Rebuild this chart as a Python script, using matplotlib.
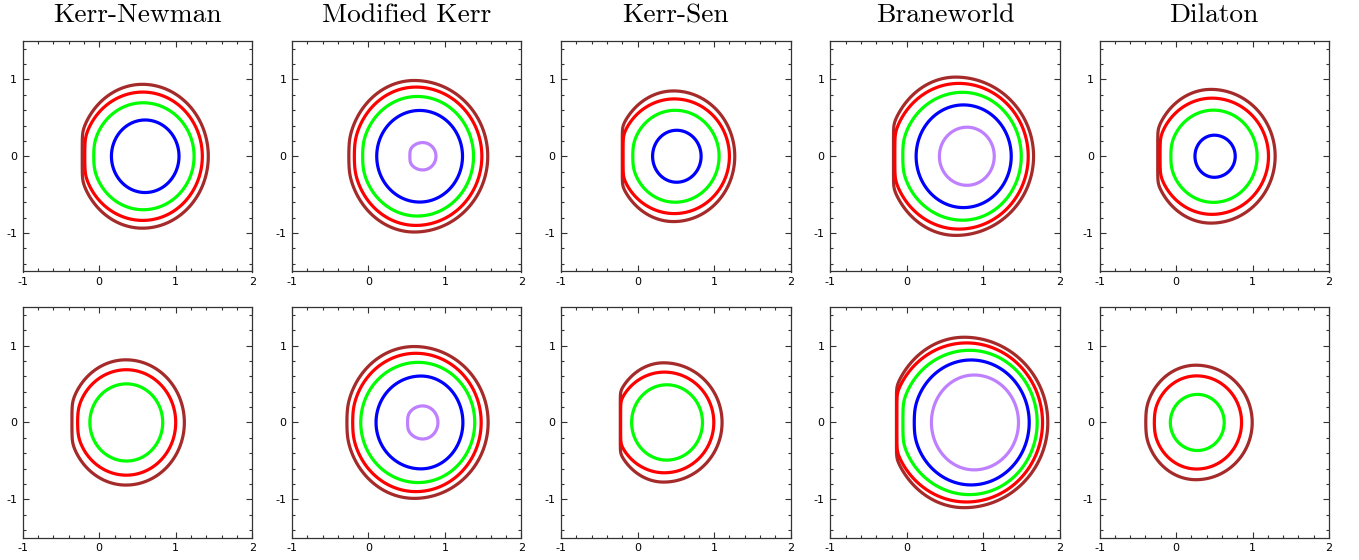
import numpy as np
import matplotlib
matplotlib.use("Agg")
import matplotlib.pyplot as plt
from matplotlib.ticker import MultipleLocator

plt.rcParams['axes.unicode_minus'] = False

titles = ["Kerr-Newman", "Modified Kerr", "Kerr-Sen", "Braneworld", "Dilaton"]
curve_colors = ['#a52a2a', '#ff0000', '#00ff00', '#0000ff', '#bf80ff']

# shadow curves, one list per panel, outer curve first
# left edge, right edge, half height, x of top point,
# and how much of the left side is a straight vertical piece (fraction of half height)
left_top = [[-0.222, -0.19, -0.078, 0.16],
            [-0.26, -0.19, -0.083, 0.109, 0.539],
            [-0.20, -0.19, -0.07, 0.196],
            [-0.174, -0.157, -0.057, 0.122, 0.426],
            [-0.239, -0.209, -0.074, 0.248]]
right_top = [[1.426, 1.348, 1.24, 1.043],
             [1.56, 1.483, 1.374, 1.23, 0.883],
             [1.27, 1.20, 1.065, 0.83],
             [1.657, 1.587, 1.496, 1.365, 1.143],
             [1.296, 1.209, 1.06, 0.774]]
half_top = [[0.936, 0.835, 0.696, 0.472],
            [0.986, 0.90, 0.778, 0.596, 0.178],
            [0.85, 0.746, 0.598, 0.338],
            [1.03, 0.948, 0.832, 0.668, 0.378],
            [0.87, 0.756, 0.60, 0.274]]
peak_top = [[0.565, 0.57, 0.574, 0.60],
            [0.60, 0.62, 0.64, 0.67, 0.71],
            [0.47, 0.48, 0.49, 0.51],
            [0.64, 0.68, 0.73, 0.74, 0.787],
            [0.457, 0.47, 0.49, 0.50]]
flat_top = [[0.33, 0.25, 0.1, 0.0],
            [0.15, 0.1, 0.05, 0.0, 0.4],
            [0.45, 0.35, 0.1, 0.0],
            [0.4, 0.3, 0.15, 0.0, 0.0],
            [0.4, 0.3, 0.1, 0.0]]

left_bot = [[-0.357, -0.287, -0.122],
            [-0.287, -0.213, -0.10, 0.10, 0.509],
            [-0.226, -0.222, -0.078],
            [-0.135, -0.13, -0.052, 0.091, 0.322],
            [-0.40, -0.291, -0.074]]
right_bot = [[1.113, 1.0, 0.83],
             [1.565, 1.474, 1.39, 1.235, 0.909],
             [1.104, 0.996, 0.848],
             [1.843, 1.774, 1.704, 1.60, 1.46],
             [0.996, 0.857, 0.63]]
half_bot = [[0.815, 0.686, 0.502],
            [0.988, 0.90, 0.782, 0.604, 0.215],
            [0.776, 0.655, 0.49],
            [1.109, 1.035, 0.939, 0.813, 0.617],
            [0.745, 0.606, 0.365]]
peak_bot = [[0.35, 0.355, 0.357],
            [0.60, 0.62, 0.65, 0.687, 0.71],
            [0.34, 0.35, 0.38],
            [0.75, 0.78, 0.82, 0.84, 0.88],
            [0.26, 0.27, 0.28]]
flat_bot = [[0.3, 0.15, 0.0],
            [0.1, 0.05, 0.0, 0.0, 0.35],
            [0.52, 0.42, 0.0],
            [0.42, 0.36, 0.25, 0.1, 0.0],
            [0.15, 0.05, 0.0]]


def shadow(xl, xr, h, xp, f, k=0.012):
    # ellipse, with the left part cut off by a vertical line (soft corner)
    t = np.linspace(0, 2*np.pi, 600, endpoint=False)
    c, s = np.cos(t), np.sin(t)
    rl = (xp - xl)/np.sqrt(1 - f**2)
    x = np.where(c >= 0, xp + (xr - xp)*c, xp + rl*c)
    if f > 0:
        x = xl + k*np.logaddexp(0, (x - xl)/k)
    y = h*s
    return x, y


fig = plt.figure(figsize=(13.59, 5.6), dpi=100)

lefts = [22.7, 291.9, 561.1, 830.3, 1099.5]
W, H = 229.5, 230.5
rows = [(271.5, left_top, right_top, half_top, peak_top, flat_top),
        (537.7, left_bot, right_bot, half_bot, peak_bot, flat_bot)]

for r, (ybot, L, R, Hh, P, F) in enumerate(rows):
    for j in range(5):
        ax = fig.add_axes([lefts[j]/1359, 1 - ybot/560, W/1359, H/560])
        for k in range(len(L[j])):
            x, y = shadow(L[j][k], R[j][k], Hh[j][k], P[j][k], F[j][k])
            ax.fill(x, y, fill=False, edgecolor=curve_colors[k], lw=2.3,
                    joinstyle='round')
        ax.set_xlim(-1, 2)
        ax.set_ylim(-1.5, 1.5)
        ax.set_xticks([-1, 0, 1, 2])
        ax.set_yticks([-1, 0, 1])
        ax.xaxis.set_minor_locator(MultipleLocator(0.2))
        ax.yaxis.set_minor_locator(MultipleLocator(0.2))
        ax.tick_params(which='both', direction='in', top=True, right=True,
                       labelsize=8, color='#333333', width=0.8, pad=4)
        ax.tick_params(which='major', length=4)
        ax.tick_params(which='minor', length=2)
        for sp in ax.spines.values():
            sp.set_color('#333333')
            sp.set_linewidth(0.9)
        if r == 0:
            ax.set_title(titles[j], fontfamily='cmr10', fontsize=19.8, pad=13.5)

fig.savefig("out.png", dpi=100)
